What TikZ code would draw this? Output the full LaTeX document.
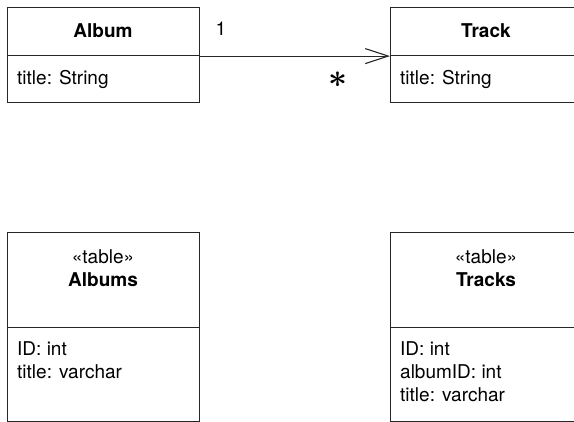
\documentclass[tikz,border=0pt]{standalone}
\usepackage{fontspec}
\setmainfont{TeX Gyre Heros}
\usetikzlibrary{arrows.meta}
\begin{document}
\begin{tikzpicture}[x=1pt,y=-1pt,
  box/.style={draw=black!85, line width=1.1pt, rectangle, inner sep=0pt, anchor=north west, minimum width=192pt},
  txt/.style={inner sep=0pt, font=\fontsize{19}{23}\selectfont},
  bold/.style={txt, font=\fontsize{19}{23}\selectfont\bfseries},
  attr/.style={txt, anchor=west, align=left},
  lbl/.style={txt, anchor=center, align=center}]
\useasboundingbox (0,0) rectangle (574,422);
\clip (0,0) rectangle (574,422);
% Album class
\node[box, minimum height=48pt] (albH) at (7,7) {};
\node[box, minimum height=47pt] (albA) at (7,55) {};
\node[bold] (albN) at (103,31) {Album};
\node[attr] (albT) at (17,79) {title: String};
% Track class
\node[box, minimum height=48pt] (trkH) at (390,7) {};
\node[box, minimum height=47pt] (trkA) at (390,55) {};
\node[bold] (trkN) at (486,31) {Track};
\node[attr] (trkT) at (400,79) {title: String};
% association
\draw[line width=1.1pt, draw=black!85, -{Straight Barb[length=23pt,width=15pt,line width=1.1pt]}] (albH.south east) -- (trkH.south west);
\node[txt] (m1) at (221,29) {1};
\node[inner sep=0pt, font=\fontsize{10}{10}\selectfont] (m2) at (337.5,80) {\scalebox{3.3}{\boldmath$\ast$}};
% Albums table
\node[box, minimum height=95pt] (tabAH) at (7,232) {};
\node[box, minimum height=94pt] (tabAA) at (7,327) {};
\node[lbl] (tabAS) at (103,257) {«table»};
\node[bold] (tabAN) at (103,280) {Albums};
\node[attr, anchor=north west] (tabAT) at (17,341) {ID: int\\title: varchar};
% Tracks table
\node[box, minimum height=95pt] (tabTH) at (390,232) {};
\node[box, minimum height=94pt] (tabTA) at (390,327) {};
\node[lbl] (tabTS) at (486,257) {«table»};
\node[bold] (tabTN) at (486,280) {Tracks};
\node[attr, anchor=north west] (tabTT) at (400,341) {ID: int\\albumID: int\\title: varchar};
\end{tikzpicture}
\end{document}
